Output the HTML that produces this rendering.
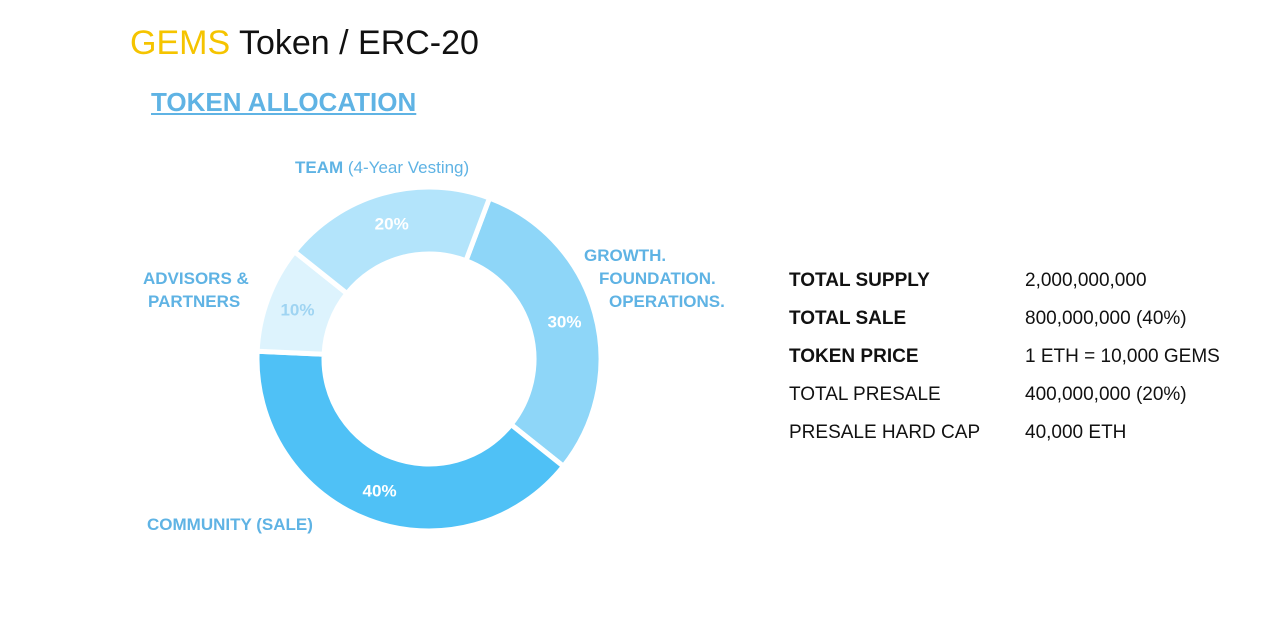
<!DOCTYPE html>
<html><head><meta charset="utf-8"><style>
body{margin:0;width:1280px;height:622px;background:#fff;font-family:"Liberation Sans",sans-serif;position:relative;overflow:hidden}
.t{position:absolute;white-space:nowrap}
</style></head><body>
<div class="t" style="left:130px;top:24px;font-size:34px;color:#111"><span style="color:#f5c400">GEMS</span> Token / ERC-20</div>
<div class="t" style="left:151px;top:87px;font-size:26px;font-weight:bold;color:#5fb3e4;text-decoration:underline">TOKEN ALLOCATION</div>
<svg id="chart" width="1280" height="622" style="position:absolute;left:0;top:0">
<g id="slices"></g>
<text x="295" y="173" font-size="17" fill="#5fb3e4"><tspan font-weight="bold">TEAM</tspan> (4-Year Vesting)</text>
<text x="584" y="261" font-size="17" font-weight="bold" fill="#5fb3e4">GROWTH.</text>
<text x="599" y="284" font-size="17" font-weight="bold" fill="#5fb3e4">FOUNDATION.</text>
<text x="609" y="307" font-size="17" font-weight="bold" fill="#5fb3e4">OPERATIONS.</text>
<text x="143" y="284" font-size="17" font-weight="bold" fill="#5fb3e4">ADVISORS &amp;</text>
<text x="148" y="307" font-size="17" font-weight="bold" fill="#5fb3e4">PARTNERS</text>
<text x="147" y="530" font-size="17" font-weight="bold" fill="#5fb3e4">COMMUNITY (SALE)</text>
</svg>
<div style="position:absolute;left:789px;top:262px;font-size:19px;color:#111;line-height:38px">
<div><b style="display:inline-block;width:236px">TOTAL SUPPLY</b>2,000,000,000</div>
<div><b style="display:inline-block;width:236px">TOTAL SALE</b>800,000,000 (40%)</div>
<div><b style="display:inline-block;width:236px">TOKEN PRICE</b>1 ETH = 10,000 GEMS</div>
<div><span style="display:inline-block;width:236px">TOTAL PRESALE</span>400,000,000 (20%)</div>
<div><span style="display:inline-block;width:236px">PRESALE HARD CAP</span>40,000 ETH</div>
</div>
<script>
const categories=["growth","community","advisors","team"];
const values=[30,40,10,20];
const labels=["30%","40%","10%","20%"];
const colors=["#8ed6f8","#4fc1f6","#ddf3fd","#b3e4fb"];
const labelColors=["#fff","#fff","#9fd4f2","#fff"];
const cx=429,cy=359,R=172,r=105,start=20.6;
const g=document.getElementById('slices');
const total=values.reduce((a,b)=>a+b,0);
function pt(a,rad){const t=a*Math.PI/180;return [cx+rad*Math.sin(t),cy-rad*Math.cos(t)];}
let a=start;
values.forEach((v,i)=>{
  const a2=a+v/total*360,lg=(a2-a)>180?1:0;
  const p1=pt(a,R),p2=pt(a2,R),p3=pt(a2,r),p4=pt(a,r);
  const p=document.createElementNS('http://www.w3.org/2000/svg','path');
  p.setAttribute('d',`M${p1}A${R},${R} 0 ${lg} 1 ${p2}L${p3}A${r},${r} 0 ${lg} 0 ${p4}Z`);
  p.setAttribute('fill',colors[i]);p.setAttribute('stroke','#fff');p.setAttribute('stroke-width','5');
  
  
  g.appendChild(p);
  const m=pt((a+a2)/2,(R+r)/2+2);
  const t=document.createElementNS('http://www.w3.org/2000/svg','text');
  t.setAttribute('x',m[0]);t.setAttribute('y',m[1]+6);t.setAttribute('text-anchor','middle');
  t.setAttribute('font-size','17');t.setAttribute('font-weight','bold');t.setAttribute('fill',labelColors[i]);
  t.textContent=labels[i];
  
  
  g.appendChild(t);
  a=a2;
});
</script>
</body></html>
